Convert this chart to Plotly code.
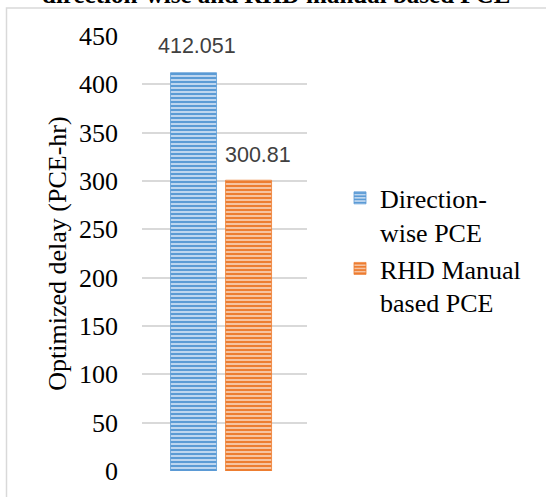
import plotly.graph_objects as go

categories = [""]
series_names = ["Direction-<br>wise PCE", "RHD Manual<br>based PCE"]
direction_wise = [412.051]
rhd_manual = [300.81]
label_texts = ["412.051", "300.81"]
tick_vals = [0, 50, 100, 150, 200, 250, 300, 350, 400, 450]
title_text = "direction-wise and RHD manual based PCE"
y_title = "Optimized delay (PCE-hr)"

W, H = 546, 497
L, R, T, B = 142, 239, 35.5, 26.3
pw, ph = W - L - R, H - T - B

def px_x(p):
    return (p - L) / pw

def px_y(p):
    return (H - B - p) / ph

fig = go.Figure()
fig.add_trace(go.Bar(
    x=categories, y=direction_wise, name=series_names[0],
    marker=dict(color="#A9CBEB", line=dict(width=0.8, color="#5B9BD5"),
                pattern=dict(shape="-", fgcolor="#5B9BD5", bgcolor="#C9DDF2",
                             size=4, solidity=0.55, fillmode="replace")),
))
fig.add_trace(go.Bar(
    x=categories, y=rhd_manual, name=series_names[1],
    marker=dict(color="#F4B183", line=dict(width=0.8, color="#ED7D31"),
                pattern=dict(shape="-", fgcolor="#ED7D31", bgcolor="#F8CBAD",
                             size=4, solidity=0.55, fillmode="replace")),
))

label_font = dict(family="Liberation Sans, Arial, sans-serif", size=21.5, color="#404040")
fig.add_annotation(x=categories[0], y=direction_wise[0], text=label_texts[0],
                   showarrow=False, yanchor="bottom", xshift=-27.5, yshift=13,
                   font=label_font)
fig.add_annotation(x=categories[0], y=rhd_manual[0], text=label_texts[1],
                   showarrow=False, yanchor="bottom", xshift=33, yshift=11,
                   font=label_font)

serif = "Liberation Serif, Times New Roman, serif"

# cropped chart title at top
fig.add_annotation(xref="paper", yref="paper", x=px_x(276), y=px_y(-6.5),
                   text="<b>" + title_text + "</b>", showarrow=False,
                   xanchor="center", yanchor="middle",
                   font=dict(family=serif, size=25, color="#000000"))

# chart area border
fig.add_shape(type="rect", xref="paper", yref="paper",
              x0=px_x(6.5), x1=px_x(560), y0=px_y(520), y1=px_y(7.5),
              line=dict(color="#D9D9D9", width=1.5), fillcolor="rgba(0,0,0,0)", layer="below")

fig.update_layout(
    width=W, height=H,
    margin=dict(l=L, r=R, t=T, b=B, autoexpand=False),
    paper_bgcolor="white", plot_bgcolor="white",
    barmode="group", bargap=0.333, bargroupgap=0.164,
    showlegend=True,
    legend=dict(x=px_x(340), y=px_y(174), xanchor="left", yanchor="top",
                font=dict(family=serif, size=26, color="#000000"),
                valign="top", tracegroupgap=22, itemwidth=30,
                bgcolor="rgba(0,0,0,0)"),
    xaxis=dict(range=[-0.479, 0.521], showticklabels=False, showgrid=False,
               zeroline=False, showline=False, ticks=""),
    yaxis=dict(range=[0, 450], tickvals=tick_vals, showgrid=True,
               gridcolor="#D9D9D9", gridwidth=1.5, zeroline=False, showline=False,
               ticks="", ticklabelstandoff=23,
               tickfont=dict(family=serif, size=26, color="#000000"),
               title=dict(text=y_title, standoff=4,
                          font=dict(family=serif, size=26, color="#000000"))),
)

fig.write_html("out.html", config={"displayModeBar": False},
               post_script="document.body.style.margin='0';document.body.style.overflow='hidden';")
